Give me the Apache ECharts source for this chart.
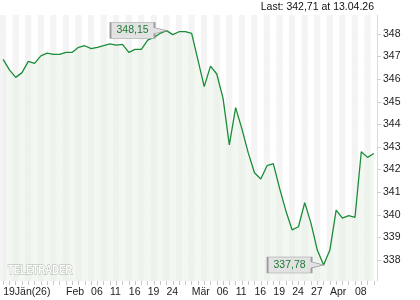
<!DOCTYPE html>
<html><head><meta charset="utf-8">
<script src="https://cdn.jsdelivr.net/npm/echarts@6/dist/echarts.min.js"></script>
<style>html,body{margin:0;padding:0;background:#ffffff}#c{width:420px;height:300px}</style>
</head><body><div id="c"></div>
<script>
const dates = [
  '19.01.26','20.01.26','21.01.26','22.01.26','23.01.26','26.01.26','27.01.26','28.01.26','29.01.26','30.01.26',
  '02.02.26','03.02.26','04.02.26','05.02.26','06.02.26','09.02.26','10.02.26','11.02.26','12.02.26','13.02.26',
  '16.02.26','17.02.26','18.02.26','19.02.26','20.02.26','23.02.26','24.02.26','25.02.26','26.02.26','27.02.26',
  '02.03.26','03.03.26','04.03.26','05.03.26','06.03.26','09.03.26','10.03.26','11.03.26','12.03.26','13.03.26',
  '16.03.26','17.03.26','18.03.26','19.03.26','20.03.26','23.03.26','24.03.26','25.03.26','26.03.26','27.03.26',
  '30.03.26','31.03.26','01.04.26','02.04.26','06.04.26','07.04.26','08.04.26','09.04.26','10.04.26','13.04.26'
];
const values = [
  346.88,346.41,346.08,346.29,346.79,346.70,347.03,347.15,347.10,347.10,
  347.19,347.19,347.41,347.48,347.35,347.41,347.48,347.56,347.51,347.54,
  347.19,347.32,347.32,347.73,347.85,348.03,348.15,347.97,348.10,348.10,
  348.03,346.85,345.67,346.58,346.23,345.15,343.09,344.74,343.80,342.75,
  341.86,341.58,342.17,342.26,341.17,340.17,339.33,339.47,340.54,339.62,
  338.44,337.78,338.44,340.21,339.85,339.96,339.89,342.79,342.54,342.71
];
const tickIndex = [0,10,14,17,20,23,26,30,34,37,40,43,46,49,52,56];
const tickText = ['19Jän(26)','Feb','06','11','16','19','24','Mär','06','11','16','19','24','27','Apr','08'];
const yTicks = [338,339,340,341,342,343,344,345,346,347,348];
const lastText = 'Last: 342,71 at 13.04.26';
const watermark = 'TELETRADER';

const labelMap = {};
tickIndex.forEach((i, k) => { labelMap[i] = tickText[k]; });
const FONT = 'Liberation Sans, Arial, sans-serif';

const chart = echarts.init(document.getElementById('c'), null, {renderer: 'canvas'});
chart.setOption({
  animation: false,
  backgroundColor: '#ffffff',
  grid: {left: 0, right: 43, top: 15, bottom: 19, containLabel: false, outerBoundsMode: 'none'},
  xAxis: {
    type: 'category',
    data: dates,
    boundaryGap: true,
    axisLine: {show: false},
    axisTick: {show: true, interval: 0, alignWithLabel: true, length: 4, lineStyle: {color: '#c8c8c8'}},
    axisLabel: {
      interval: (i) => labelMap[i] !== undefined,
      formatter: (v, i) => labelMap[i] || '',
      align: 'left', margin: 6, fontSize: 10.5, color: '#222', fontFamily: FONT
    },
    splitLine: {show: false},
    splitArea: {show: true, interval: 0, areaStyle: {color: ['#f4f4f4', '#ffffff']}}
  },
  yAxis: {
    type: 'value',
    position: 'right',
    min: 337.07, max: 348.84,
    axisLine: {show: true, lineStyle: {color: '#dcdcdc'}},
    axisTick: {show: true, customValues: yTicks, length: 4, lineStyle: {color: '#d0d0d0'}},
    axisLabel: {customValues: yTicks, margin: 6, fontSize: 10.5, color: '#222', fontFamily: FONT},
    splitLine: {show: true, lineStyle: {color: '#e2e2e2', width: 1}}
  },
  series: [{
    type: 'line',
    data: values,
    symbol: 'none',
    lineStyle: {color: '#1b8c38', width: 1.3},
    areaStyle: {color: 'rgba(232,240,229,0.72)'},
    markPoint: {
      symbol: 'path://M0 0H44V5L56 8L44 11V16H0Z',
      symbolSize: [56, 16],
      symbolOffset: [-28, 0],
      itemStyle: {color: '#e2e2e2', borderColor: '#9a9a9a', borderWidth: 1},
      label: {
        show: true, position: 'inside', offset: [-6, 0],
        color: '#1f7a35', fontSize: 10.5, fontFamily: FONT,
        formatter: (p) => p.value.toFixed(2).replace('.', ',')
      },
      data: [{type: 'max'}, {type: 'min'}]
    }
  }],
  graphic: [
    {type: 'text', right: 46, top: 2, style: {text: lastText, fill: '#111', font: '10.5px Liberation Sans, Arial, sans-serif'}},
    {type: 'text', x: 8, y: 265, scaleX: 0.8, z: 100, style: {text: watermark, fill: '#ffffff', stroke: '#a9b2a7', lineWidth: 1, font: 'bold 12px Liberation Sans, Arial, sans-serif'}}
  ]
});
</script>
</body></html>
